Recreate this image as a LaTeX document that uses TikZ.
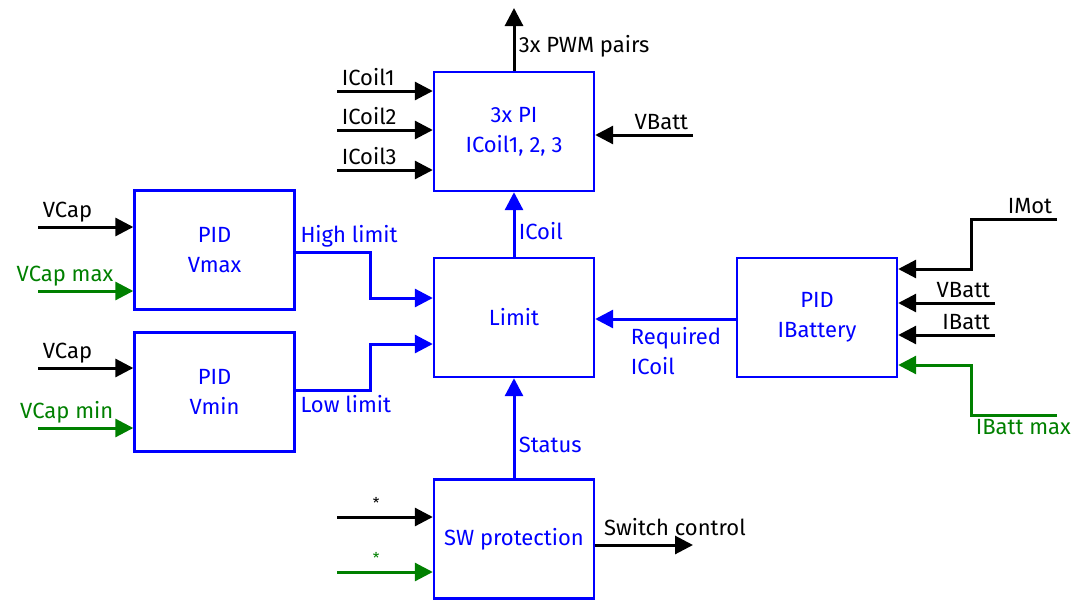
\documentclass[tikz,border=0pt]{standalone}
\usepackage{fontspec}
\setmainfont{Fira Sans}
\usetikzlibrary{arrows.meta}
\definecolor{sigblue}{RGB}{0,0,255}
\definecolor{siggreen}{RGB}{0,128,0}
\begin{document}
\begin{tikzpicture}[x=1pt, y=-1pt,
  every node/.style={font=\fontsize{22}{30}\selectfont},
  blk/.style={draw=sigblue, line width=2.4pt, text=sigblue, align=center, minimum width=160pt, minimum height=119pt},
  sig/.style={line width=3pt, -{Triangle[length=18pt,width=18pt]}},
  sigb/.style={sig, draw=sigblue},
  sigg/.style={sig, draw=siggreen},
  lbl/.style={text=black},
  lblb/.style={text=sigblue},
  lblg/.style={text=siggreen},
  star/.style={font=\fontsize{15}{15}\selectfont}]
  \useasboundingbox (0,0) rectangle (1076,600);
  % blocks
  \node[blk] (pi) at (514,131.5) {3x PI\\ICoil1, 2, 3};
  \node[blk] (pmax) at (214.5,250) {PID\\Vmax};
  \node[blk] (pmin) at (214.5,392) {PID\\Vmin};
  \node[blk] (lim) at (514,317.5) {Limit};
  \node[blk] (sw) at (514,539) {SW protection};
  \node[blk] (ibat) at (817,317.5) {PID\\IBattery};
  % free ends
  \coordinate (pwm) at (514,8);
  \coordinate (vbpi) at (693,135);
  \coordinate (swc) at (693,545);
  \coordinate (imot) at (1057,219);
  \coordinate (vbib) at (995,303);
  \coordinate (ibib) at (995,335);
  \coordinate (ibmax) at (1057,415);
  \coordinate (vcmx) at (38,227);
  \coordinate (vcmxg) at (38,291);
  \coordinate (vcmn) at (38,368);
  \coordinate (vcmng) at (38,428);
  \coordinate (stk) at (337,517);
  \coordinate (stg) at (337,572);
  % 3x PI
  \foreach \n/\y in {1/91, 2/130, 3/170} {
    \coordinate (ic\n) at (337,\y);
    \draw[sig] (ic\n) node[lbl, above right] {ICoil\n} -- (ic\n -| pi.west);
  }
  \draw[sig] (pi.north) -- (pwm) node[lbl, pos=.39, right] {3x PWM pairs};
  \draw[sig] (vbpi) node[lbl, above left] {VBatt} -- (vbpi -| pi.east);
  % PID Vmax / Vmin
  \draw[sig] (vcmx) node[lbl, above right] {VCap} -- (vcmx -| pmax.west);
  \draw[sigg] (vcmxg) -- (vcmxg -| pmax.west) node[lblg, pos=.84, above left] {VCap max};
  \draw[sig] (vcmn) node[lbl, above right] {VCap} -- (vcmn -| pmin.west);
  \draw[sigg] (vcmng) -- (vcmng -| pmin.west) node[lblg, pos=.84, above left] {VCap min};
  \draw[sigb] ([yshift=-2pt]pmax.east) node[lblb, above right] {High limit} -- ++(75,0) |- ([yshift=19.5pt]lim.west);
  \draw[sigb] ([yshift=2pt]pmin.east) node[lblb, below right] {Low limit} -- ++(75,0) |- ([yshift=-26.5pt]lim.west);
  % Limit
  \draw[sigb] (lim.north) -- (pi.south) node[lblb, pos=.4, right] {ICoil};
  \draw[sigb] (sw.north) -- (lim.south) node[lblb, pos=.33, right] {Status};
  \draw[sigb] ([yshift=-1.5pt]ibat.west) -- ([yshift=-1.5pt]lim.east) node[lblb, pos=.78, below right, yshift=-3pt, align=left] {Required\\ICoil};
  % SW protection
  \draw[sig] (stk) -- (stk -| sw.west) node[lbl, star, pos=.41, above, yshift=4pt] {*};
  \draw[sigg] (stg) -- (stg -| sw.west) node[lblg, star, pos=.41, above, yshift=4pt] {*};
  \draw[sig] (sw.east |- swc) node[lbl, above right, xshift=4pt, yshift=4pt] {Switch control} -- (swc);
  % PID IBattery
  \draw[sig] (imot) node[lbl, above left] {IMot} -- ++(-86,0) |- ([yshift=48.5pt]ibat.east);
  \draw[sig] (vbib) node[lbl, above left] {VBatt} -- (vbib -| ibat.east);
  \draw[sig] (ibib) node[lbl, above left] {IBatt} -- (ibib -| ibat.east);
  \draw[sigg] (ibmax) -- ++(-86,0) node[lblg, below right] {IBatt max} |- ([yshift=-47.5pt]ibat.east);
\end{tikzpicture}
\end{document}
